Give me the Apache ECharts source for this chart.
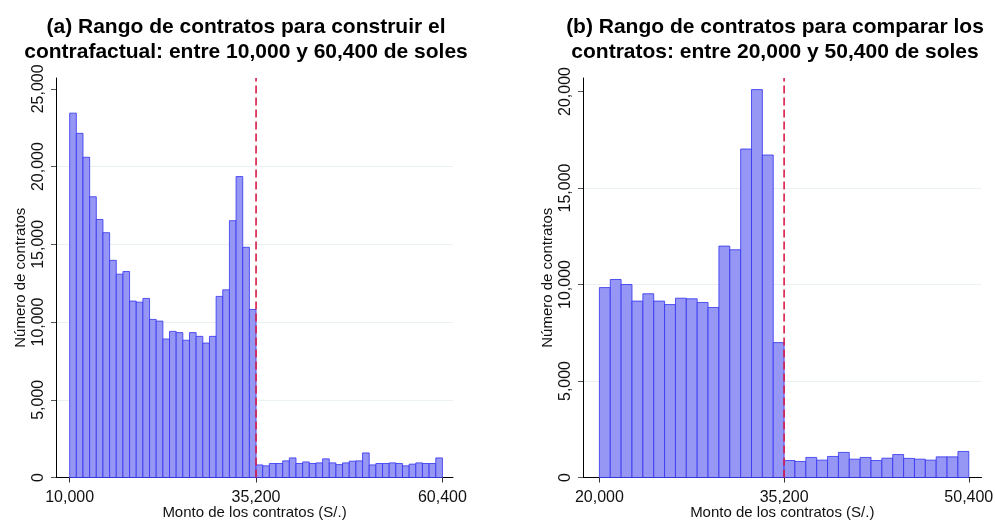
<!DOCTYPE html>
<html>
<head>
<meta charset="utf-8">
<script src="https://cdn.jsdelivr.net/npm/echarts@6/dist/echarts.min.js"></script>
<style>
html,body{margin:0;padding:0;background:#fff;}
#chart{width:995px;height:522px;}
</style>
</head>
<body>
<div id="chart"></div>
<script>
// ---------- DATA ----------
// Panel (a): bins between 10,000 and 60,400 soles, cut at 35,200
const titleA = "(a) Rango de contratos para construir el\ncontrafactual: entre 10,000 y 60,400 de soles";
const startA = 10000, cutA = 35200, endA = 60400;
const countsBelowA = [23440, 22140, 20600, 18060, 16600, 15750, 13970, 13080, 13250, 11350,
  11280, 11520, 10170, 10060, 8910, 9400, 9320, 8830, 9320, 9080,
  8650, 9080, 11650, 12070, 16520, 19360, 14810, 10810];
const countsAboveA = [810, 750, 900, 900, 1070, 1260, 900, 1000, 900, 940,
  1200, 940, 830, 940, 1050, 1070, 1580, 810, 900, 900,
  940, 900, 750, 860, 940, 900, 900, 1260];
const xTicksA = [10000, 35200, 60400];
const yTicksA = [0, 5000, 10000, 15000, 20000, 25000];

// Panel (b): bins between 20,000 and 50,400 soles, cut at 35,200
const titleB = "(b) Rango de contratos para comparar los\ncontratos: entre 20,000 y 50,400 de soles";
const startB = 20000, cutB = 35200, endB = 50400;
const countsBelowB = [9840, 10260, 10000, 9140, 9520, 9140, 8960, 9290, 9260, 9070,
  8810, 11990, 11800, 17020, 20100, 16710, 6990];
const countsAboveB = [880, 830, 1040, 900, 1090, 1300, 950, 1040, 880, 1000,
  1190, 990, 950, 900, 1070, 1070, 1350];
const xTicksB = [20000, 35200, 50400];
const yTicksB = [0, 5000, 10000, 15000, 20000];

const xLabel = "Monto de los contratos (S/.)";
const yLabel = "Número de contratos";

// ---------- BUILD ----------
function bins(start, cut, end, below, above) {
  const out = [];
  const w1 = (cut - start) / below.length;
  below.forEach((c, i) => out.push([start + i * w1, start + (i + 1) * w1, c]));
  const w2 = (end - cut) / above.length;
  above.forEach((c, i) => out.push([cut + i * w2, cut + (i + 1) * w2, c]));
  return out;
}
const fmt = v => String(v).replace(/\B(?=(\d{3})+(?!\d))/g, ",");

const FONT = "'Liberation Sans', Arial, sans-serif";
const BAR_FILL = "#9696f5";
const BAR_STROKE = "#3232f0";

function renderBar(params, api) {
  const p0 = api.coord([api.value(0), api.value(2)]);
  const p1 = api.coord([api.value(1), 0]);
  return {
    type: 'rect',
    shape: { x: p0[0], y: p0[1], width: p1[0] - p0[0], height: p1[1] - p0[1] },
    style: { fill: BAR_FILL, stroke: BAR_STROKE, lineWidth: 0.8 }
  };
}

function xAxisCfg(idx, min, max, ticks) {
  return {
    type: 'value', gridIndex: idx, min: min, max: max,
    name: xLabel, nameLocation: 'middle', nameGap: 28, nameMoveOverlap: false,
    nameTextStyle: { fontFamily: FONT, fontSize: 15, color: '#111' },
    axisLine: { show: true, onZero: false, lineStyle: { color: '#000', width: 1 } },
    axisTick: { show: true, customValues: ticks, length: 5, lineStyle: { color: '#333' } },
    axisLabel: { customValues: ticks, formatter: fmt, margin: 12,
      fontFamily: FONT, fontSize: 16, color: '#111' },
    splitLine: { show: false }
  };
}
function yAxisCfg(idx, max, ticks) {
  return {
    type: 'value', gridIndex: idx, min: 0, max: max, interval: 5000,
    name: yLabel, nameLocation: 'middle', nameGap: 28, nameMoveOverlap: false,
    nameTextStyle: { fontFamily: FONT, fontSize: 15, color: '#111' },
    axisLine: { show: true, lineStyle: { color: '#000', width: 1 } },
    axisTick: { show: true, customValues: ticks, length: 5, lineStyle: { color: '#555' } },
    axisLabel: { customValues: ticks, formatter: fmt, rotate: 90, margin: 9,
      fontFamily: FONT, fontSize: 16, color: '#111' },
    splitLine: { show: true, showMinLine: false, showMaxLine: false,
      lineStyle: { color: '#e9f1f3', width: 1 } }
  };
}

const yMaxA = 25700, yMaxB = 20700;

const option = {
  backgroundColor: '#fff',
  animation: false,
  title: [
    { text: titleA, left: 241, top: 10, textAlign: 'center',
      textStyle: { fontFamily: FONT, fontSize: 21, fontWeight: 'bold', color: '#000', lineHeight: 25 } },
    { text: titleB, left: 770, top: 10, textAlign: 'center',
      textStyle: { fontFamily: FONT, fontSize: 21, fontWeight: 'bold', color: '#000', lineHeight: 25 } }
  ],
  grid: [
    { left: 56, top: 78, width: 397, height: 399.5, outerBoundsMode: 'none', containLabel: false },
    { left: 583, top: 78, width: 398.5, height: 399.5, outerBoundsMode: 'none', containLabel: false }
  ],
  xAxis: [
    xAxisCfg(0, 8150, 61830, xTicksA),
    xAxisCfg(1, 18650, 51445, xTicksB)
  ],
  yAxis: [
    yAxisCfg(0, yMaxA, yTicksA),
    yAxisCfg(1, yMaxB, yTicksB)
  ],
  series: [
    { type: 'custom', xAxisIndex: 0, yAxisIndex: 0, renderItem: renderBar,
      encode: { x: [0, 1], y: 2 }, data: bins(startA, cutA, endA, countsBelowA, countsAboveA) },
    { type: 'custom', xAxisIndex: 1, yAxisIndex: 1, renderItem: renderBar,
      encode: { x: [0, 1], y: 2 }, data: bins(startB, cutB, endB, countsBelowB, countsAboveB) },
    { type: 'line', xAxisIndex: 0, yAxisIndex: 0, symbol: 'none', silent: true, z: 5,
      lineStyle: { color: '#d81b46', width: 1.6, type: [8, 4] },
      data: [[cutA, 0], [cutA, yMaxA]] },
    { type: 'line', xAxisIndex: 1, yAxisIndex: 1, symbol: 'none', silent: true, z: 5,
      lineStyle: { color: '#d81b46', width: 1.6, type: [8, 4] },
      data: [[cutB, 0], [cutB, yMaxB]] }
  ]
};

const chart = echarts.init(document.getElementById('chart'), null, { renderer: 'canvas' });
chart.setOption(option);
</script>
</body>
</html>
